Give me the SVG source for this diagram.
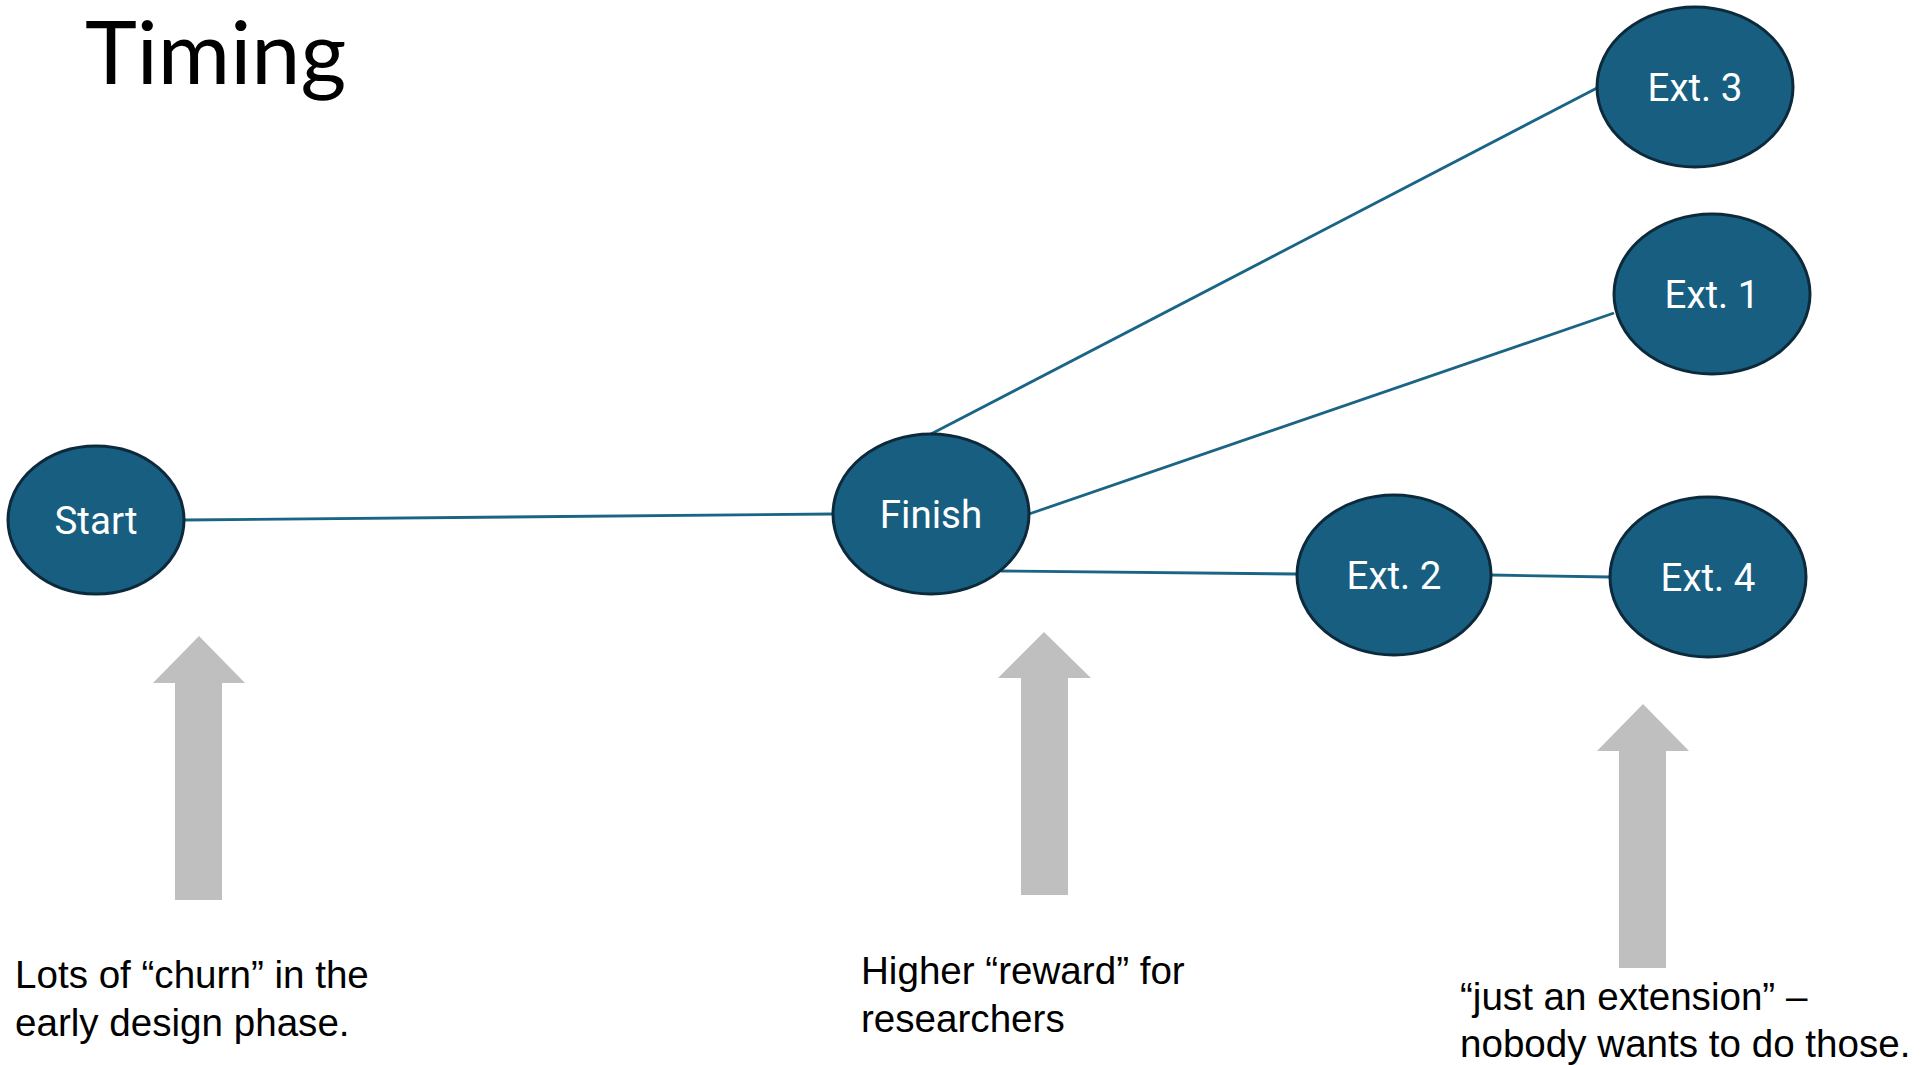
<svg xmlns="http://www.w3.org/2000/svg" width="1927" height="1065" viewBox="0 0 1927 1065">
<style>
.node ellipse{fill:#175e80;stroke:#0c2a3b;stroke-width:3}
.node text{font-family:Roboto,"Liberation Sans",sans-serif;font-size:38.5px;fill:#ffffff;text-anchor:middle}
.conn line{stroke:#1a6486;stroke-width:2.8}
.arrow{fill:#bfbfbf}
.note{font-family:"Liberation Sans",Arial,sans-serif;font-size:38.6px;fill:#000000}
.title{font-family:Lato,"Open Sans",sans-serif;font-size:88px;fill:#000000}
</style>
<rect width="1927" height="1065" fill="#ffffff"/>
<text class="title" x="85" y="84">Timing</text>
<g id="connectors" class="conn">
<line x1="184" y1="520" x2="833" y2="514"/>
<line x1="931" y1="434" x2="1597" y2="88"/>
<line x1="1029" y1="514" x2="1614" y2="313"/>
<line x1="1001" y1="571" x2="1296" y2="574"/>
<line x1="1491" y1="575" x2="1610" y2="577"/>
</g>
<g id="start" class="node"><ellipse cx="96" cy="520" rx="88" ry="74"/><text x="96" y="534">Start</text></g>
<g id="finish" class="node"><ellipse cx="931" cy="514" rx="98" ry="80"/><text x="931" y="528">Finish</text></g>
<g id="ext3" class="node"><ellipse cx="1695" cy="87" rx="98" ry="80"/><text x="1695" y="101">Ext. 3</text></g>
<g id="ext1" class="node"><ellipse cx="1712" cy="294" rx="98" ry="80"/><text x="1712" y="308">Ext. 1</text></g>
<g id="ext2" class="node"><ellipse cx="1394" cy="575" rx="97" ry="80"/><text x="1394" y="589">Ext. 2</text></g>
<g id="ext4" class="node"><ellipse cx="1708" cy="577" rx="98" ry="80"/><text x="1708" y="591">Ext. 4</text></g>
<g id="arrow1"><polygon class="arrow" points="199,636 245,683 222,683 222,900 175,900 175,683 153,683"/></g>
<g id="arrow2"><polygon class="arrow" points="1044,632 1091,678 1068,678 1068,895 1021,895 1021,678 998,678"/></g>
<g id="arrow3"><polygon class="arrow" points="1643,704 1689,751 1666,751 1666,968 1619,968 1619,751 1597,751"/></g>
<g id="note1"><text class="note" x="15" y="988">Lots of “churn” in the</text><text class="note" x="15" y="1036">early design phase.</text></g>
<g id="note2"><text class="note" x="861" y="984">Higher “reward” for</text><text class="note" x="861" y="1032">researchers</text></g>
<g id="note3"><text class="note" x="1460" y="1010" font-size="38.2">“just an extension” –</text><text class="note" x="1460" y="1057" font-size="38.2">nobody wants to do those.</text></g>
</svg>
